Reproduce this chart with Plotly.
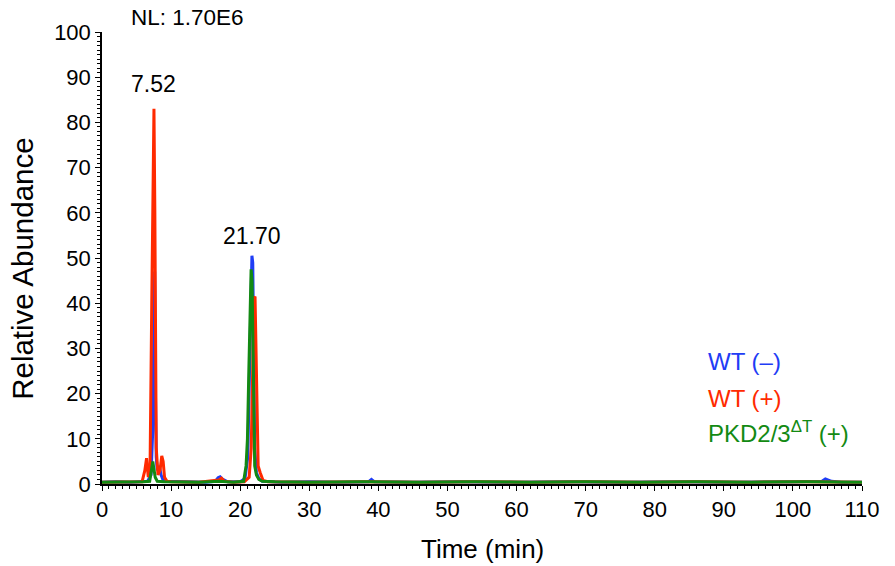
import plotly.graph_objects as go

# ---- data ----
t_wt_minus = [0, 2, 4, 5.5, 6.6, 7.1, 7.35, 7.5, 7.62, 7.72, 7.85, 8.0, 8.3, 8.55, 8.8, 9.3, 12, 15, 16.4,
              16.8, 17.1, 17.5, 18.2, 20.0, 20.7, 21.1, 21.35, 21.55, 21.7, 21.82, 21.95, 22.1, 22.35, 22.7,
              23.2, 26, 30, 34, 38.6, 39.0, 39.4, 45, 52, 60, 68, 76, 84, 92, 100, 104.2, 104.7, 105.1, 105.6,
              107, 110]
v_wt_minus = [0.4, 0.5, 0.4, 0.5, 0.6, 2.0, 12.0, 35.0, 47.0, 22.0, 6.0, 3.0, 4.0, 2.0, 1.0, 0.6, 0.5, 0.4, 0.6,
              1.4, 1.6, 1.0, 0.5, 0.5, 1.2, 6.0, 25.0, 44.0, 50.5, 49.0, 30.0, 8.0, 2.5, 1.2,
              0.6, 0.4, 0.5, 0.4, 0.5, 1.0, 0.5, 0.4, 0.5, 0.4, 0.5, 0.4, 0.5, 0.4, 0.5, 0.6, 1.1, 0.9, 0.6,
              0.4, 0.4]

t_wt_plus = [0, 3, 5.8, 6.2, 6.45, 6.7, 6.95, 7.2, 7.4, 7.52, 7.65, 7.85, 8.1, 8.4, 8.65, 8.85, 9.05, 9.4,
             10, 14, 16.9, 17.3, 17.7, 19, 20.6, 21.3, 21.6, 21.85, 22.0, 22.15, 22.35, 22.6, 22.9, 23.3,
             24, 30, 38, 46, 54, 62, 70, 78, 86, 94, 102, 110]
v_wt_plus = [0.4, 0.4, 0.5, 3.0, 5.7, 1.5, 3.0, 40.0, 80.0, 83.0, 60.0, 8.0, 2.0, 3.0, 6.2, 5.0, 1.5, 0.6,
             0.5, 0.4, 0.9, 1.3, 0.6, 0.4, 0.5, 1.5, 8.0, 30.0, 41.0, 41.5, 20.0, 4.0, 2.5, 0.8,
             0.5, 0.4, 0.5, 0.4, 0.5, 0.4, 0.5, 0.4, 0.5, 0.4, 0.5, 0.4]

t_pkd = [0, 3, 6, 6.9, 7.2, 7.35, 7.5, 7.7, 8.0, 9, 14, 17, 19, 20.5, 20.85, 21.05, 21.25, 21.45, 21.58,
         21.72, 21.9, 22.1, 22.35, 22.7, 23.2, 25, 30, 38, 46, 54, 62, 70, 78, 86, 94, 102, 110]
v_pkd = [0.4, 0.4, 0.5, 0.6, 3.0, 5.0, 3.5, 1.5, 0.6, 0.5, 0.4, 0.6, 0.4, 0.6, 4.0, 10.0, 25.0, 44.0, 47.5,
         45.0, 20.0, 4.0, 2.0, 1.0, 0.6, 0.5, 0.4, 0.5, 0.4, 0.5, 0.4, 0.5, 0.4, 0.5, 0.4, 0.5, 0.4]

peak_times = [7.52, 21.70]
peak_labels = ["7.52", "21.70"]
peak_heights = [83.0, 50.5]

series = [
    ("WT (–)", t_wt_minus, v_wt_minus, "#1f3df5"),
    ("WT (+)", t_wt_plus, v_wt_plus, "#ff2a00"),
    ("PKD2/3<sup>ΔT</sup> (+)", t_pkd, v_pkd, "#138a13"),
]

FONT = "Liberation Sans, Arial, Helvetica, sans-serif"

fig = go.Figure()
for name, t, v, c in series:
    fig.add_trace(go.Scatter(x=t, y=v, mode="lines", name=name,
                             line=dict(color=c, width=3), showlegend=False))

label_offsets = [5.5, 4.4]
for pt, pl, ph, off in zip(peak_times, peak_labels, peak_heights, label_offsets):
    fig.add_annotation(x=pt, y=ph + off, text=pl, showarrow=False, yanchor="middle",
                       font=dict(family=FONT, size=23, color="black"))

# legend as coloured text
legend_y = [0.270, 0.190, 0.115]
for (name, t, v, c), ly in zip(series, legend_y):
    fig.add_annotation(xref="paper", yref="paper", x=0.795, y=ly,
                       xanchor="left", yanchor="middle", text=name, showarrow=False,
                       font=dict(family=FONT, size=24, color=c))

fig.add_annotation(xref="paper", yref="paper", x=0.036, y=1.031,
                   xanchor="left", yanchor="middle", text="NL: 1.70E6", showarrow=False,
                   font=dict(family=FONT, size=22.5, color="black"))

fig.add_annotation(xref="paper", yref="paper", x=-0.104, y=0.476, textangle=-90,
                   text="Relative Abundance", showarrow=False,
                   xanchor="center", yanchor="middle",
                   font=dict(family=FONT, size=29.5, color="black"))
fig.add_annotation(xref="paper", yref="paper", x=0.5, y=-0.144,
                   text="Time (min)", showarrow=False, xanchor="center", yanchor="middle",
                   font=dict(family=FONT, size=26, color="black"))

fig.update_layout(
    width=895, height=566,
    margin=dict(l=94, r=41, t=24, b=90),
    plot_bgcolor="white", paper_bgcolor="white",
    font=dict(family=FONT, size=22, color="black"),
    xaxis=dict(range=[0, 110], tick0=0, dtick=10, showgrid=False, zeroline=False,
               showline=True, linecolor="black", linewidth=1.5,
               ticks="outside", ticklen=5, tickwidth=1.2, tickcolor="black",
               minor=dict(dtick=1, ticks="outside", ticklen=3, tickwidth=1, tickcolor="black"),
               tickfont=dict(family=FONT, size=22)),
    yaxis=dict(range=[0, 100], tick0=0, dtick=10, showgrid=False, zeroline=False,
               showline=True, linecolor="black", linewidth=1.5,
               ticks="outside", ticklen=5, tickwidth=1.2, tickcolor="black",
               minor=dict(dtick=1, ticks="outside", ticklen=3, tickwidth=1, tickcolor="black"),
               tickfont=dict(family=FONT, size=22)),
)

fig.write_html("out.html")
